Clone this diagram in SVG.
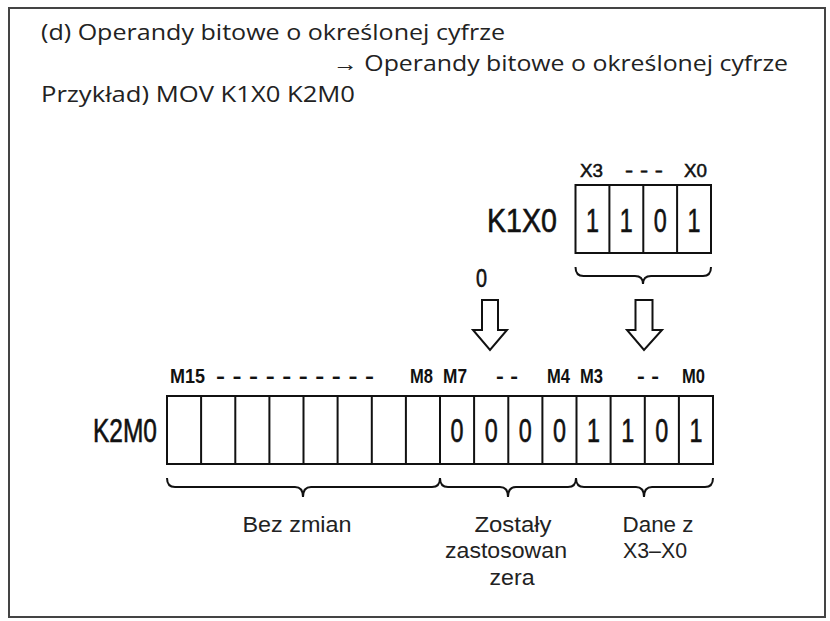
<svg xmlns="http://www.w3.org/2000/svg" width="830" height="621" viewBox="0 0 830 621">
<style>
.t{font-family:"Open Sans","Noto Sans","Liberation Sans",sans-serif;font-size:21px;fill:#222}
.b{font-family:"Liberation Sans","Open Sans",sans-serif;font-size:22px;fill:#222;text-anchor:middle}
.k{font-family:"Liberation Sans","DejaVu Sans",sans-serif;font-size:33px;fill:#111;stroke:#111;stroke-width:0.6}
.d{font-family:"Liberation Sans","DejaVu Sans",sans-serif;font-size:33px;fill:#111;stroke:#111;stroke-width:0.6;text-anchor:middle}
.m{font-family:"Liberation Sans","DejaVu Sans",sans-serif;font-size:20px;font-weight:bold;fill:#111}
.x{font-family:"Liberation Sans","DejaVu Sans",sans-serif;font-size:18px;fill:#111;stroke:#111;stroke-width:0.5}
.cell{fill:#fff;stroke:#111;stroke-width:2}
.div{stroke:#111;stroke-width:2}
.brace{fill:none;stroke:#111;stroke-width:2}
.arrow{fill:#fff;stroke:#111;stroke-width:2;stroke-linejoin:miter}
</style>
<rect x="9" y="8" width="816" height="609" fill="#fff" stroke="#444" stroke-width="2"/>
<g id="title">
<text class="t" x="41" y="40" textLength="464" lengthAdjust="spacingAndGlyphs">(d) Operandy bitowe o określonej cyfrze</text>
<text class="t" x="333" y="71" textLength="455" lengthAdjust="spacingAndGlyphs">→ Operandy bitowe o określonej cyfrze</text>
<text class="t" x="41" y="102" textLength="314" lengthAdjust="spacingAndGlyphs">Przykład) MOV K1X0 K2M0</text>
</g>
<g id="k1x0">
<text class="k" x="487" y="232" textLength="70" lengthAdjust="spacingAndGlyphs">K1X0</text>
<text class="x" x="580" y="177" textLength="23" lengthAdjust="spacingAndGlyphs">X3</text>
<text class="x" x="625" y="177" textLength="38" lengthAdjust="spacingAndGlyphs">- - -</text>
<text class="x" x="684" y="177" textLength="23" lengthAdjust="spacingAndGlyphs">X0</text>
<rect class="cell" x="575.5" y="185" width="135.5" height="68"/>
<path class="div" d="M609.4 185V253M643.3 185V253M677.1 185V253"/>
<text class="d" x="592.4" y="232" textLength="13" lengthAdjust="spacingAndGlyphs">1</text>
<text class="d" x="626.3" y="232" textLength="13" lengthAdjust="spacingAndGlyphs">1</text>
<text class="d" x="660.2" y="232" textLength="13" lengthAdjust="spacingAndGlyphs">0</text>
<text class="d" x="694.1" y="232" textLength="13" lengthAdjust="spacingAndGlyphs">1</text>
</g>
<g id="k2m0">
<text class="k" x="93" y="442" textLength="64" lengthAdjust="spacingAndGlyphs">K2M0</text>
<text class="m" x="170" y="383" textLength="35" lengthAdjust="spacingAndGlyphs">M15</text>
<text class="m" x="216" y="383" textLength="158" lengthAdjust="spacingAndGlyphs">- - - - - - - - - -</text>
<text class="m" x="410" y="383" textLength="23" lengthAdjust="spacingAndGlyphs">M8</text>
<text class="m" x="443" y="383" textLength="24" lengthAdjust="spacingAndGlyphs">M7</text>
<text class="m" x="496" y="383" textLength="22" lengthAdjust="spacingAndGlyphs">- -</text>
<text class="m" x="547" y="383" textLength="23" lengthAdjust="spacingAndGlyphs">M4</text>
<text class="m" x="580" y="383" textLength="23" lengthAdjust="spacingAndGlyphs">M3</text>
<text class="m" x="637" y="383" textLength="22" lengthAdjust="spacingAndGlyphs">- -</text>
<text class="m" x="682" y="383" textLength="23" lengthAdjust="spacingAndGlyphs">M0</text>
<rect class="cell" x="167" y="396" width="546" height="68"/>
<path class="div" d="M201.1 396V464M235.3 396V464M269.4 396V464M303.5 396V464M337.6 396V464M371.8 396V464M405.9 396V464M440 396V464M474.1 396V464M508.3 396V464M542.4 396V464M576.5 396V464M610.6 396V464M644.8 396V464M678.9 396V464"/>
<text class="d" x="457" y="442" textLength="13" lengthAdjust="spacingAndGlyphs">0</text>
<text class="d" x="491.2" y="442" textLength="13" lengthAdjust="spacingAndGlyphs">0</text>
<text class="d" x="525.3" y="442" textLength="13" lengthAdjust="spacingAndGlyphs">0</text>
<text class="d" x="559.4" y="442" textLength="13" lengthAdjust="spacingAndGlyphs">0</text>
<text class="d" x="593.5" y="442" textLength="13" lengthAdjust="spacingAndGlyphs">1</text>
<text class="d" x="627.7" y="442" textLength="13" lengthAdjust="spacingAndGlyphs">1</text>
<text class="d" x="661.8" y="442" textLength="13" lengthAdjust="spacingAndGlyphs">0</text>
<text class="d" x="696" y="442" textLength="13" lengthAdjust="spacingAndGlyphs">1</text>
</g>
<g id="zero-label">
<text class="k" x="476" y="287" style="font-size:26px" textLength="11" lengthAdjust="spacingAndGlyphs">0</text>
</g>
<g id="connectors">
<path class="brace" d="M575.5 267Q575.5 276 583.5 276L635 276Q643 276 643 284Q643 276 651 276L703 276Q711 276 711 267"/>
<path class="arrow" d="M482 300H498V330H507L490 350L473 330H482Z"/>
<path class="arrow" d="M635.5 300H652.5V330H662L644 350L627 330H635.5Z"/>
<path class="brace" d="M167 478Q167 487 175 487L295 487Q303 487 303 497Q303 487 311 487L432 487Q440 487 440 478Q440 487 448 487L500 487Q508 487 508 497Q508 487 516 487L568 487Q576 487 576 478Q576 487 584 487L636 487Q644 487 644 497Q644 487 652 487L705 487Q713 487 713 478"/>
</g>
<g id="labels">
<text class="b" x="297" y="532" textLength="109" lengthAdjust="spacingAndGlyphs">Bez zmian</text>
<text class="b" x="513" y="532" textLength="77" lengthAdjust="spacingAndGlyphs">Zostały</text>
<text class="b" x="506" y="558" textLength="122" lengthAdjust="spacingAndGlyphs">zastosowan</text>
<text class="b" x="512" y="585" textLength="45" lengthAdjust="spacingAndGlyphs">zera</text>
<text class="b" x="658" y="532" textLength="71" lengthAdjust="spacingAndGlyphs">Dane z</text>
<text class="b" x="655" y="558" textLength="64" lengthAdjust="spacingAndGlyphs">X3–X0</text>
</g>
</svg>
